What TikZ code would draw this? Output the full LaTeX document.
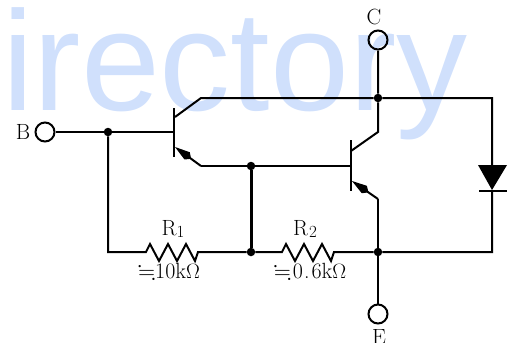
\documentclass[tikz,border=0pt]{standalone}
\usepackage{amssymb}
\usepackage{fontspec}
\newfontfamily\markfont{Liberation Sans}
\usepackage{tikz}
\usetikzlibrary{arrows.meta}
\definecolor{markblue}{RGB}{208,224,252}
\newcommand{\subnum}[1]{\raisebox{-2.5pt}{\fontsize{17}{17}\selectfont #1}}
\tikzset{
	wire/.style={line width=2pt},
	bar/.style={line width=2.4pt},
	term/.style={circle, draw, line width=2pt, minimum size=19pt, inner sep=0pt},
	dot/.style={circle, fill, minimum size=8.5pt, inner sep=0pt},
	lab/.style={inner sep=0pt, font=\fontsize{22}{22}\selectfont},
	emit/.style={wire, -{Kite[length=20pt,width=9pt,inset=5pt]}},
	zig/.style={to path={-- ++(4,-8) -- ++(9,17) -- ++(9,-17) -- ++(9,17) -- ++(9,-17) -- ++(9,17) -- (\tikztotarget)}}
}
\begin{document}
\begin{tikzpicture}[x=1pt,y=-1pt]
\useasboundingbox (0,0) rectangle (512,343);
\node (wm) [anchor=base west, inner sep=0pt, text=markblue, font=\fontsize{142}{142}\selectfont\markfont] at (2,110) {irectory};
% terminals
\node (tb) [term] at (45,132) {};
\node (tc) [term] at (378,40) {};
\node (te) [term] at (378,314) {};
\node (lb) [lab] at (23,132) {B};
\node (lc) [lab] at (374,17) {C};
\node (le) [lab] at (379,337) {E};
% junctions
\node (jb) [dot] at (108,132) {};
\node (jt) [dot] at (378,98) {};
\node (jm) [dot] at (251,166) {};
\node (jl) [dot] at (251,252) {};
\node (jr) [dot] at (378,252) {};
% first transistor
\coordinate (q1b) at (174,132);
\coordinate (q1u) at (174,108);
\coordinate (q1d) at (174,157);
\coordinate (q1c) at (175,117);
\coordinate (q1e) at (175,147);
\coordinate (q1ct) at (201,98);
\coordinate (q1et) at (201,166);
% second transistor
\coordinate (q2b) at (351,166);
\coordinate (q2u) at (351,140);
\coordinate (q2d) at (351,191);
\coordinate (q2c) at (351,151);
\coordinate (q2e) at (352,181);
\coordinate (q2ct) at (378,132);
\coordinate (q2et) at (378,199);
% right side and resistors
\coordinate (rt) at (492,98);
\coordinate (rb) at (492,252);
\coordinate (da) at (492,165);
\coordinate (dk) at (492,191);
\coordinate (bl) at (108,252);
\coordinate (r1a) at (146,252);
\coordinate (r1b) at (198,252);
\coordinate (r2a) at (282,252);
\coordinate (r2b) at (334,252);
\draw[bar] (q1u) -- (q1d);
\draw[bar] (q2u) -- (q2d);
\draw[wire] (tb) -- (jb) -- (q1b);
\draw[wire] (q1c) -- (q1ct) -- (jt) -- (rt) -- (da);
\draw[wire] (tc) -- (jt) -- (q2ct) -- (q2c);
\draw[emit] (q1et) -- (q1e);
\draw[wire] (q1et) -- (jm) -- (q2b);
\draw[emit] (q2et) -- (q2e);
\draw[wire] (q2et) -- (jr) -- (te);
\draw[line width=3pt] (jm) -- (jl);
\draw[wire] (jb) -- (bl) -- (r1a) to[zig] (r1b) -- (jl) -- (r2a) to[zig] (r2b) -- (jr) -- (rb) -- (dk);
% diode
\fill (478,165) -- (507,165) -- (492,190) -- cycle;
\draw[bar] (479,191) -- (507,191);
% labels
\node (lr1) [lab] at (173,229) {R\subnum{1}};
\node (lr2) [lab] at (305,229) {R\kern1pt\subnum{2}};
\node (vr1) [lab] at (169,272) {$\fallingdotseq$10k$\Omega$};
\node (vr2) [lab] at (310,272) {$\fallingdotseq$\kern2pt 0\kern1pt.\kern2pt 6k$\Omega$};
\end{tikzpicture}
\end{document}
